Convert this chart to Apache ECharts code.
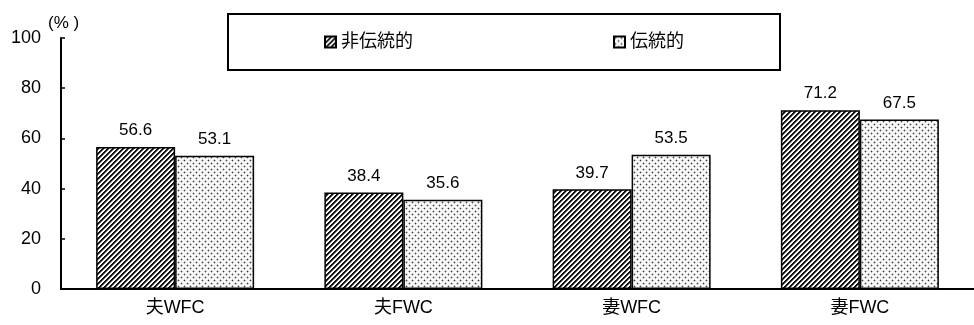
<!DOCTYPE html>
<html>
<head>
<meta charset="utf-8">
<script src="https://cdn.jsdelivr.net/npm/echarts@6/dist/echarts.min.js"></script>
<style>
  html, body { margin: 0; padding: 0; background: #fff; }
  #chart { width: 974px; height: 325px; }
</style>
</head>
<body>
<div id="chart"></div>
<script>
// data
var categories = ['夫WFC', '夫FWC', '妻WFC', '妻FWC'];
var seriesNames = ['非伝統的', '伝統的'];
var nonTraditional = [56.6, 38.4, 39.7, 71.2];
var traditional = [53.1, 35.6, 53.5, 67.5];
var yTicks = [0, 20, 40, 60, 80, 100];

var FONT = '"Liberation Sans", Arial, "Noto Sans CJK JP", sans-serif';

// hatch "/" stripes
function makeStripes() {
  var c = document.createElement('canvas');
  c.width = 5; c.height = 5;
  var ctx = c.getContext('2d');
  for (var x = 0; x < 5; x++) {
    for (var y = 0; y < 5; y++) {
      var k = (x + y) % 5;
      ctx.fillStyle = k < 2 ? '#111' : (k == 2 ? '#777' : '#fff');
      ctx.fillRect(x, y, 1, 1);
    }
  }
  return c;
}
// light dots
function makeDots() {
  var c = document.createElement('canvas');
  c.width = 6; c.height = 6;
  var ctx = c.getContext('2d');
  ctx.fillStyle = '#f8f8f8';
  ctx.fillRect(0, 0, 6, 6);
  [[1, 1], [4, 4]].forEach(function (p) {
    ctx.fillStyle = '#bbb';
    ctx.fillRect(p[0] - 1, p[1], 3, 1);
    ctx.fillRect(p[0], p[1] - 1, 1, 3);
    ctx.fillStyle = '#444';
    ctx.fillRect(p[0], p[1], 1, 1);
  });
  return c;
}

var chart = echarts.init(document.getElementById('chart'));

var labelStyle = {
  show: true,
  position: 'top',
  distance: 8,
  color: '#000',
  fontSize: 17,
  fontFamily: FONT
};

var option = {
  backgroundColor: '#fff',
  animation: false,
  textStyle: { fontFamily: FONT },
  graphic: [{
    type: 'text',
    left: 48,
    top: 15,
    style: { text: '(% )', fontSize: 17, fontFamily: FONT, fill: '#000' }
  }],
  legend: {
    left: 228,
    top: 14,
    padding: [19, 96, 19, 96],
    itemGap: 200,
    itemWidth: 11,
    itemHeight: 11,
    icon: 'rect',
    borderColor: '#000',
    borderWidth: 2,
    textStyle: { fontSize: 18, color: '#000', fontFamily: FONT },
    data: seriesNames
  },
  grid: {
    left: 61,
    right: 0,
    top: 38,
    bottom: 36
  },
  xAxis: {
    type: 'category',
    data: categories,
    axisLine: { lineStyle: { color: '#000', width: 2 } },
    axisTick: { show: false },
    axisLabel: { color: '#000', fontSize: 18, margin: 10, fontFamily: FONT }
  },
  yAxis: {
    type: 'value',
    min: yTicks[0],
    max: yTicks[yTicks.length - 1],
    interval: yTicks[1] - yTicks[0],
    axisLine: { show: true, lineStyle: { color: '#000', width: 2 } },
    axisTick: { show: true, inside: true, length: 4, lineStyle: { color: '#000', width: 1.5 } },
    axisLabel: { color: '#000', fontSize: 18, margin: 20, fontFamily: FONT },
    splitLine: { show: false }
  },
  series: [
    {
      name: seriesNames[0],
      type: 'bar',
      data: nonTraditional,
      barWidth: 79,
      barGap: '0%',
      itemStyle: {
        color: { image: makeStripes(), repeat: 'repeat' },
        borderColor: '#000',
        borderWidth: 1.5
      },
      label: labelStyle
    },
    {
      name: seriesNames[1],
      type: 'bar',
      data: traditional,
      barWidth: 79,
      barGap: '0%',
      itemStyle: {
        color: { image: makeDots(), repeat: 'repeat' },
        borderColor: '#000',
        borderWidth: 1.5
      },
      label: labelStyle
    }
  ]
};

chart.setOption(option);
</script>
</body>
</html>
